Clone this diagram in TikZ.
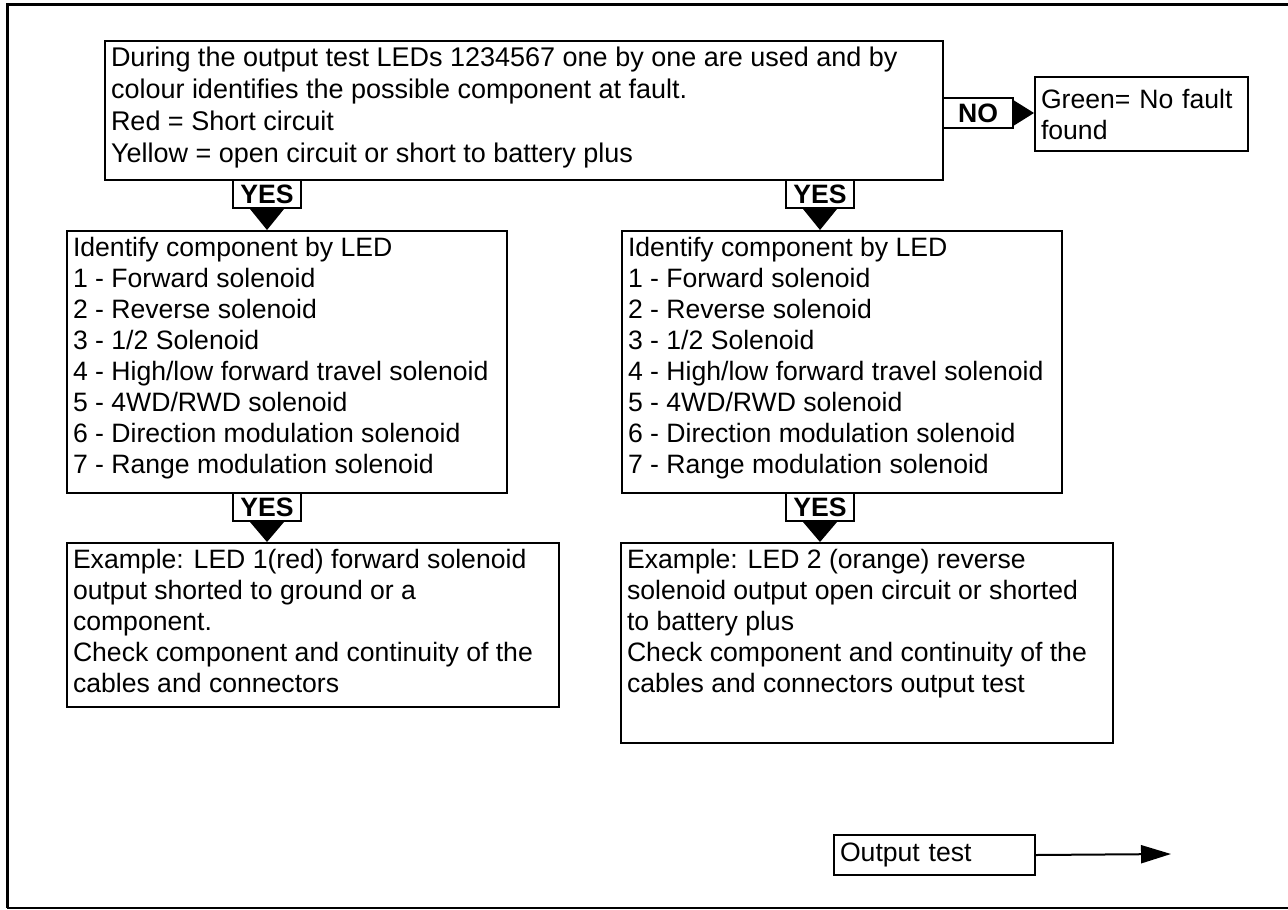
\documentclass[tikz,border=0pt]{standalone}
\usepackage{fontspec}
\setmainfont{Liberation Sans}
\usetikzlibrary{positioning,arrows.meta}

\tikzset{
  txtbox/.style={draw,line width=1pt,anchor=north west,inner sep=3pt},
  tagbox/.style={draw,line width=1pt,anchor=north west,inner sep=0pt,
    minimum width=34pt,minimum height=14pt,font=\bfseries\fontsize{13.3}{14}\selectfont},
  pointer/.style={fill=black},
}

\begin{document}
\begin{tikzpicture}[x=0.5pt,y=-0.5pt,font=\fontsize{13.3}{15.5}\selectfont]
  \useasboundingbox (0,0) rectangle (1288,909);

  % Frame
  \draw[line width=1.5pt] (1288,5) -- (7,5) -- (7,908);
  \draw[line width=0.7pt] (7,908) -- (1288,908);

  % Output test question
  \node[txtbox] (test) at (104,40) {\parbox[t][63.5pt][t]{413pt}{\fontsize{13.5}{16}\selectfont\raggedright
    During the output test LEDs 1234567 one by one are used and by\\
    colour identifies the possible component at fault.\\
    Red = Short circuit\\
    Yellow = open circuit or short to battery plus}};

  % No fault
  \node[tagbox,minimum width=35pt,minimum height=15pt] (no) at (942,97) {NO};
  \node[txtbox,text width=100.5pt,minimum height=37pt,align=left] (green) at (1034,76)
    {Green= No fault\\found};
  \fill[pointer] ([yshift=6.25pt]no.east) -- ([yshift=-6.25pt]no.east) -- (no.east -| green.west) -- cycle;

  % Identify component, left and right
  \node[tagbox] (yes1) at (232,179) {YES};
  \node[tagbox] (yes2) at (785,179) {YES};
  \node[txtbox] (led1) at (66,230) {\parbox[t][125pt][t]{214pt}{\raggedright
    Identify component by LED\\
    1 - Forward solenoid\\
    2 - Reverse solenoid\\
    3 - 1/2 Solenoid\\
    4 - High/low forward travel solenoid\\
    5 - 4WD/RWD solenoid\\
    6 - Direction modulation solenoid\\
    7 - Range modulation solenoid}};
  \node[txtbox] (led2) at (621,230) {\parbox[t][125pt][t]{214pt}{\raggedright
    Identify component by LED\\
    1 - Forward solenoid\\
    2 - Reverse solenoid\\
    3 - 1/2 Solenoid\\
    4 - High/low forward travel solenoid\\
    5 - 4WD/RWD solenoid\\
    6 - Direction modulation solenoid\\
    7 - Range modulation solenoid}};
  \fill[pointer] ([xshift=-8.5pt]yes1.south) -- ([xshift=8.5pt]yes1.south) -- (yes1.south |- led1.north) -- cycle;
  \fill[pointer] ([xshift=-8.5pt]yes2.south) -- ([xshift=8.5pt]yes2.south) -- (yes2.south |- led2.north) -- cycle;

  % Examples
  \node[tagbox] (yes3) at (232,492) {YES};
  \node[tagbox] (yes4) at (785,492) {YES};
  \node[txtbox] (ex1) at (66,542) {\parbox[t][76pt][t]{240pt}{\raggedright
    Example: LED 1(red) forward solenoid\\
    output shorted to ground or a\\
    component.\\
    Check component and continuity of the\\
    cables and connectors}};
  \node[txtbox] (ex2) at (620,542) {\parbox[t][94pt][t]{240pt}{\raggedright
    Example: LED 2 (orange) reverse\\
    solenoid output open circuit or shorted\\
    to battery plus\\
    Check component and continuity of the\\
    cables and connectors output test}};
  \fill[pointer] ([xshift=-8.5pt]yes3.south) -- ([xshift=8.5pt]yes3.south) -- (yes3.south |- ex1.north) -- cycle;
  \fill[pointer] ([xshift=-8.5pt]yes4.south) -- ([xshift=8.5pt]yes4.south) -- (yes4.south |- ex2.north) -- cycle;

  % Next page
  \node[txtbox,minimum width=100.5pt,minimum height=20pt,text width=94.5pt] (out) at (833,834) {Output test};
  \coordinate (next) at (1171,854);
  \draw[line width=1pt,-{Triangle[length=15pt,width=9pt]}] (out.east) -- (next);
\end{tikzpicture}
\end{document}
